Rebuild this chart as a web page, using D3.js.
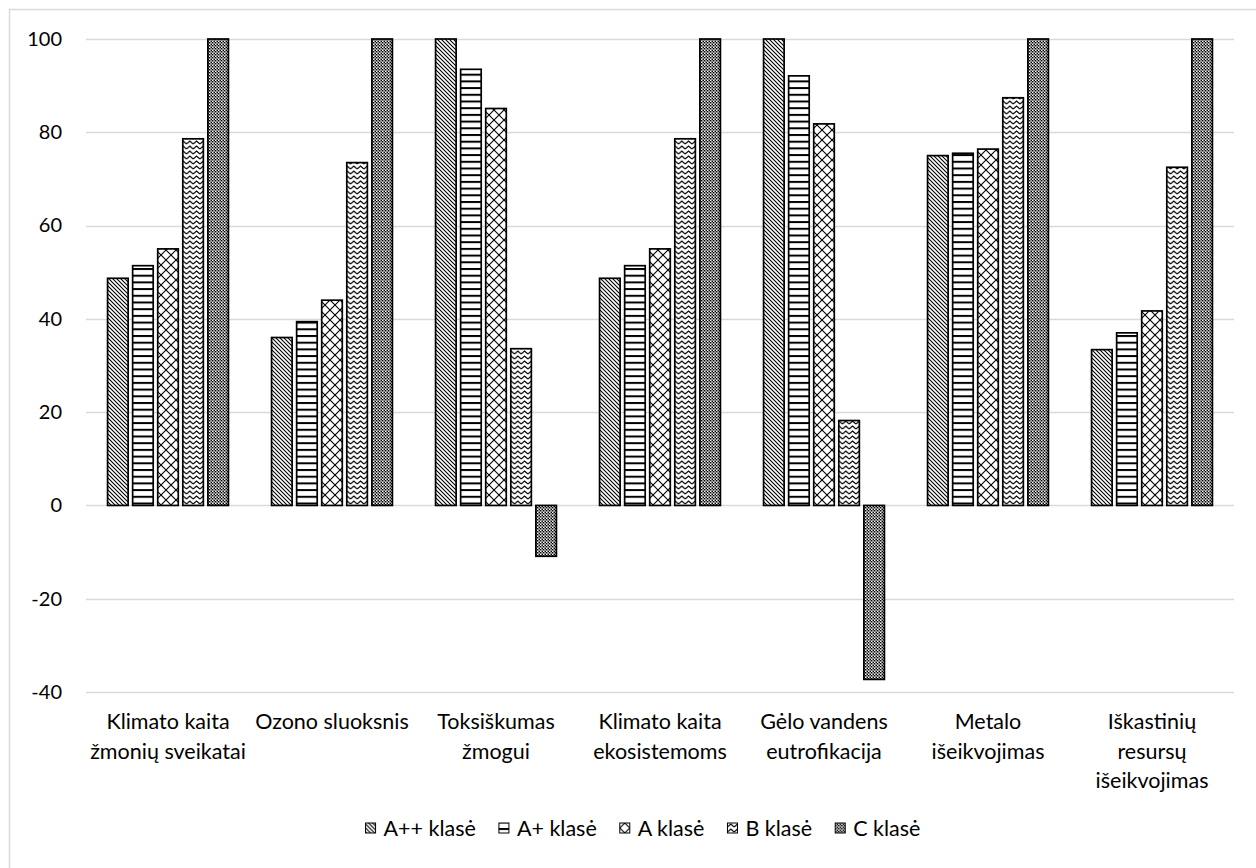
<!DOCTYPE html>
<html>
<head>
<meta charset="utf-8">
<script src="https://cdn.jsdelivr.net/npm/d3@7"></script>
<style>
  html, body { margin: 0; padding: 0; background: #fff; }
  svg { display: block; font-family: Lato, "Open Sans", sans-serif; }
</style>
</head>
<body>
<svg id="chart" width="1256" height="868"></svg>
<script>
// Impact categories (axis label lines)
const categories = [
  "Klimato kaita žmonių sveikatai",
  "Ozono sluoksnis",
  "Toksiškumas žmogui",
  "Klimato kaita ekosistemoms",
  "Gėlo vandens eutrofikacija",
  "Metalo išeikvojimas",
  "Iškastinių resursų išeikvojimas"
];
const categoryLines = [
  ["Klimato kaita", "žmonių sveikatai"],
  ["Ozono sluoksnis"],
  ["Toksiškumas", "žmogui"],
  ["Klimato kaita", "ekosistemoms"],
  ["Gėlo vandens", "eutrofikacija"],
  ["Metalo", "išeikvojimas"],
  ["Iškastinių", "resursų", "išeikvojimas"]
];

// Energy classes
const seriesNames = ["A++ klasė", "A+ klasė", "A klasė", "B klasė", "C klasė"];

// Relative impact values per class, one entry per category
const valuesApp = [48.7, 36.0, 100, 48.7, 100, 75.0, 33.4];
const valuesAp  = [51.4, 39.4, 93.5, 51.4, 92.1, 75.5, 37.0];
const valuesA   = [55.0, 44.0, 85.1, 55.0, 81.8, 76.4, 41.7];
const valuesB   = [78.6, 73.5, 33.6, 78.6, 18.2, 87.4, 72.5];
const valuesC   = [100, 100, -10.9, 100, -37.3, 100, 100];

const yTicks = [-40, -20, 0, 20, 40, 60, 80, 100];

const seriesValues = [valuesApp, valuesAp, valuesA, valuesB, valuesC];
const patternIds = ["pat-dndiag", "pat-horz", "pat-trellis", "pat-zigzag", "pat-check"];

const labelFont = 21.5;
const tickFont = 20;
const textColor = "#000";

const svg = d3.select("#chart");

// ---- fill patterns ----
const defs = svg.append("defs");

function pattern(id, w, h) {
  const p = defs.append("pattern")
    .attr("id", id)
    .attr("patternUnits", "userSpaceOnUse")
    .attr("width", w).attr("height", h);
  p.append("rect").attr("width", w).attr("height", h).attr("fill", "#fff");
  return p;
}

// downward diagonal
pattern("pat-dndiag", 4, 4).append("path")
  .attr("d", "M-1,-1 L5,5 M-1,3 L1,5 M3,-1 L5,1")
  .attr("stroke", "#000").attr("stroke-width", 1.1).attr("fill", "none");

// horizontal bands
pattern("pat-horz", 8, 6.7).append("rect")
  .attr("x", 0).attr("y", 0).attr("width", 8).attr("height", 2)
  .attr("fill", "#000");

// diagonal trellis
pattern("pat-trellis", 10, 10).append("path")
  .attr("d", "M0,0 L10,10 M10,0 L0,10")
  .attr("stroke", "#000").attr("stroke-width", 1.1).attr("fill", "none");

// zigzag
pattern("pat-zigzag", 6.7, 5).append("path")
  .attr("d", "M0,4 L3.35,1 L6.7,4")
  .attr("stroke", "#000").attr("stroke-width", 1.1).attr("fill", "none");

// fine checker
const chk = pattern("pat-check", 3, 3);
chk.append("rect").attr("x", 0).attr("y", 0).attr("width", 1.5).attr("height", 1.5).attr("fill", "#000");
chk.append("rect").attr("x", 1.5).attr("y", 1.5).attr("width", 1.5).attr("height", 1.5).attr("fill", "#000");
chk.append("rect").attr("x", 1.5).attr("y", 0).attr("width", 1.5).attr("height", 1.5).attr("fill", "#9a9a9a");

// ---- outer frame ----
svg.append("rect")
  .attr("x", 9.5).attr("y", 9.5)
  .attr("width", 1260).attr("height", 880)
  .attr("fill", "none").attr("stroke", "#d9d9d9").attr("stroke-width", 1.5);

// ---- scales ----
const plotLeft = 86, plotRight = 1234, plotTop = 39, plotBottom = 692;

const x0 = d3.scaleBand()
  .domain(categories)
  .range([plotLeft, plotRight])
  .padding(0);

const x1 = d3.scaleBand()
  .domain(seriesNames)
  .range([0, x0.bandwidth()])
  .paddingInner(0.18)
  .paddingOuter(0.86);

const y = d3.scaleLinear()
  .domain([-40, 100])
  .range([plotBottom, plotTop]);

// ---- gridlines ----
svg.append("g")
  .selectAll("line")
  .data(yTicks)
  .join("line")
  .attr("x1", plotLeft).attr("x2", plotRight)
  .attr("y1", d => Math.round(y(d)) + 0.5).attr("y2", d => Math.round(y(d)) + 0.5)
  .attr("stroke", "#d9d9d9").attr("stroke-width", 1.5);

// ---- y axis labels ----
const yAxis = svg.append("g")
  .attr("transform", `translate(${plotLeft},0)`)
  .call(d3.axisLeft(y).tickValues(yTicks).tickSize(0).tickPadding(24).tickFormat(d => String(d)));
yAxis.select(".domain").remove();
yAxis.selectAll("text")
  .attr("font-size", tickFont)
  .attr("fill", textColor)
  .attr("font-family", "Lato, sans-serif");

// ---- bars ----
const groups = svg.append("g")
  .selectAll("g")
  .data(categories)
  .join("g")
  .attr("transform", d => `translate(${x0(d)},0)`);

groups.selectAll("rect")
  .data((c, ci) => seriesNames.map((s, si) => ({ s, si, v: seriesValues[si][ci] })))
  .join("rect")
  .attr("x", d => x1(d.s))
  .attr("width", x1.bandwidth())
  .attr("y", d => y(Math.max(0, d.v)))
  .attr("height", d => Math.abs(y(d.v) - y(0)))
  .attr("fill", d => `url(#${patternIds[d.si]})`)
  .attr("stroke", "#000")
  .attr("stroke-width", 1.7);

// ---- category labels ----
const xAxis = svg.append("g")
  .attr("transform", `translate(0,${plotBottom})`)
  .call(d3.axisBottom(x0).tickSize(0).tickFormat(""));
xAxis.select(".domain").remove();
xAxis.selectAll(".tick").each(function(d, i) {
  const t = d3.select(this).select("text")
    .attr("font-size", labelFont)
    .attr("fill", textColor)
    .attr("font-family", "Lato, sans-serif")
    .attr("text-anchor", "middle")
    .attr("dy", null)
    .attr("y", 0);
  t.selectAll("tspan")
    .data(categoryLines[i])
    .join("tspan")
    .attr("x", 0)
    .attr("y", (l, j) => 37 + j * 29.5)
    .text(l => l);
});

// ---- legend ----
const legend = svg.append("g").attr("transform", "translate(0,828)");
const items = legend.selectAll("g")
  .data(seriesNames)
  .join("g");
items.append("rect")
  .attr("width", 10).attr("height", 10)
  .attr("y", -5)
  .attr("fill", (d, i) => `url(#${patternIds[i]})`)
  .attr("stroke", "#000").attr("stroke-width", 1);
items.append("text")
  .attr("x", 18)
  .attr("y", 7.5)
  .attr("font-size", labelFont)
  .attr("fill", textColor)
  .attr("font-family", "Lato, sans-serif")
  .text(d => d);

const widths = [];
items.each(function() {
  widths.push(this.getBBox().width);
});
const gap = 23;
const total = d3.sum(widths) + gap * (widths.length - 1);
let cursor = 643 - total / 2;
items.attr("transform", (d, i) => {
  const tx = cursor;
  cursor += widths[i] + gap;
  return `translate(${tx},0)`;
});
</script>
</body>
</html>
